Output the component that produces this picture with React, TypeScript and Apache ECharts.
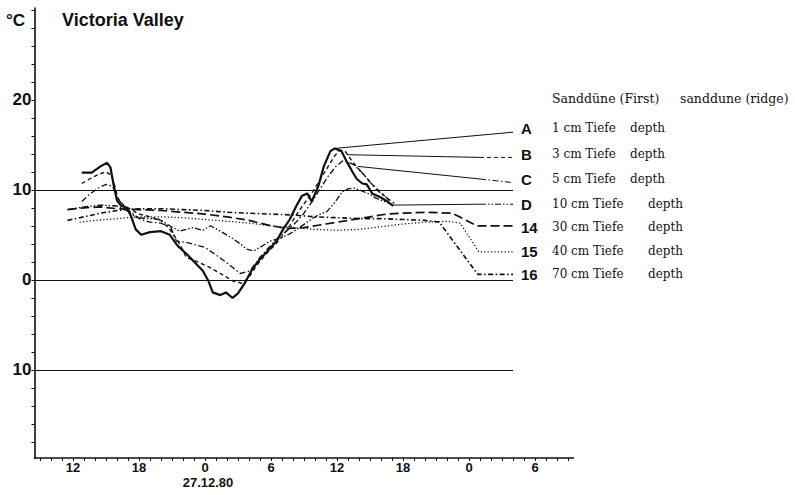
import React, { useEffect, useRef } from "react";
import * as echarts from "echarts";

// ---- texts ----
const title = "Victoria Valley";
const unitLabel = "°C";
const dateLabel = "27.12.80";
const legendHeaderLeft = "Sanddüne (First)";
const legendHeaderRight = "sanddune (ridge)";
const seriesCodes = ["A", "B", "C", "D", "14", "15", "16"];
const depthTexts = ["1 cm Tiefe", "3 cm Tiefe", "5 cm Tiefe", "10 cm Tiefe", "30 cm Tiefe", "40 cm Tiefe", "70 cm Tiefe"];
const depthWord = "depth";

// ---- axes (hours since 12:00 on 26.12.80, temperature °C) ----
const hourLabelValues = [0, 6, 12, 18, 24, 30, 36, 42];
const tempLabelValues = [20, 10, 0, -10];
const gridLineTemps = [10, 0, -10];

// ---- series [hour, °C] ----
const depth1cm = [
  [0.8, 11.9], [1.7, 11.9], [2.5, 12.6], [3.1, 13.0], [3.4, 12.5], [3.7, 10.5], [4.0, 8.8], [4.4, 8.2],
  [4.9, 8.0], [5.3, 7.0], [5.7, 5.6], [6.2, 5.0], [7.0, 5.3], [8.0, 5.4], [8.8, 5.0], [9.5, 3.8],
  [10.3, 2.9], [11.1, 1.9], [11.8, 1.0], [12.3, -0.1], [12.7, -1.4], [13.4, -1.7], [13.9, -1.4],
  [14.5, -2.0], [15.0, -1.5], [15.6, -0.4], [16.3, 1.2], [17.0, 2.3], [17.7, 3.2], [18.5, 4.3],
  [19.1, 5.6], [19.7, 6.7], [20.3, 8.2], [20.8, 9.3], [21.3, 9.6], [21.7, 8.7], [22.3, 10.4],
  [22.8, 12.6], [23.4, 14.3], [23.8, 14.6], [24.4, 14.3], [24.9, 13.1], [25.4, 12.0], [25.8, 11.2],
  [26.3, 10.7], [26.7, 10.6], [27.2, 9.6], [27.9, 9.2], [28.6, 8.7], [29.1, 8.2],
];
const depth3cm = [
  [0.8, 10.7], [1.5, 11.2], [2.3, 11.7], [3.0, 12.0], [3.5, 11.6], [3.8, 10.4], [4.1, 9.0], [4.6, 8.3],
  [5.3, 7.8], [6.0, 7.3], [7.0, 7.0], [8.0, 6.6], [8.8, 5.6], [9.7, 4.0], [10.3, 2.5], [11.5, 1.9],
  [12.4, 1.4], [13.4, 0.7], [14.5, -0.1], [15.4, -0.4], [16.0, 0.3], [16.7, 1.6], [17.5, 2.8],
  [18.3, 3.8], [19.0, 4.8], [19.7, 6.0], [20.4, 7.4], [21.1, 8.6], [21.8, 9.8], [22.5, 11.2],
  [23.2, 12.6], [23.8, 13.8], [24.3, 14.4], [24.8, 14.2], [25.3, 13.3], [25.9, 12.4], [26.5, 11.6],
  [27.2, 10.6], [27.9, 9.8], [28.6, 9.0], [29.2, 8.5],
];
const depth5cm = [
  [0.8, 8.7], [1.5, 9.5], [2.3, 10.2], [3.0, 10.6], [3.6, 10.4], [4.0, 9.2], [4.5, 8.3], [5.2, 7.6],
  [6.0, 6.8], [7.0, 6.4], [8.0, 6.3], [8.9, 5.8], [9.4, 4.3], [10.5, 4.1], [12.0, 3.6], [13.3, 2.5],
  [14.5, 1.4], [15.2, 0.7], [16.1, 1.0], [17.0, 2.5], [17.8, 3.6], [18.6, 4.6], [19.4, 5.4],
  [20.2, 6.3], [21.0, 7.4], [21.8, 8.8], [22.5, 10.2], [23.2, 11.5], [23.9, 12.6], [24.5, 13.2],
  [25.0, 13.1], [25.5, 12.8], [26.2, 12.0], [26.9, 11.0], [27.6, 10.0], [28.3, 9.3], [29.0, 8.7],
];
const depth10cm = [
  [-0.5, 7.8], [1.0, 8.1], [2.5, 8.3], [4.0, 8.2], [5.0, 7.6], [5.8, 6.9], [7.0, 6.8], [7.9, 6.7],
  [8.8, 6.0], [9.7, 5.4], [10.9, 5.8], [11.8, 5.5], [12.5, 6.0], [13.4, 5.4], [14.5, 4.6], [15.2, 4.0],
  [15.8, 3.4], [16.4, 3.2], [17.0, 3.6], [17.9, 4.3], [18.8, 4.6], [19.7, 5.1], [20.6, 5.8],
  [21.5, 6.6], [22.3, 7.2], [23.1, 7.6], [23.8, 8.6], [24.5, 9.8], [25.0, 10.1], [25.5, 10.2],
  [26.0, 10.0], [26.4, 9.8], [27.0, 9.5], [27.5, 9.1], [28.3, 8.7], [29.1, 8.3],
];
const depth30cm = [
  [-0.5, 7.8], [1.0, 8.0], [2.5, 8.1], [4.0, 7.9], [6.0, 7.8], [8.0, 7.7], [10.0, 7.5], [12.0, 7.3],
  [14.0, 7.0], [16.0, 6.6], [18.0, 6.0], [19.5, 5.7], [21.0, 5.8], [23.0, 6.2], [25.0, 6.6], [27.0, 7.0],
  [28.5, 7.3], [30.0, 7.4], [32.0, 7.5], [34.5, 7.4], [36.7, 6.0], [40.0, 6.0],
];
const depth40cm = [
  [0.6, 6.4], [2.0, 6.6], [4.0, 6.8], [6.0, 7.0], [8.0, 7.0], [10.0, 6.9], [12.0, 6.7], [14.0, 6.5],
  [16.0, 6.3], [18.0, 6.0], [20.0, 5.8], [22.0, 5.6], [24.0, 5.5], [26.0, 5.6], [28.0, 5.9], [30.0, 6.2],
  [32.0, 6.4], [34.0, 6.5], [35.2, 6.3], [36.9, 3.1], [40.0, 3.1],
];
const depth70cm = [
  [-0.5, 6.6], [1.0, 7.0], [2.5, 7.4], [4.0, 7.7], [6.0, 7.9], [8.0, 7.9], [10.0, 7.8], [12.0, 7.7],
  [14.0, 7.5], [16.0, 7.4], [18.0, 7.3], [20.0, 7.2], [22.0, 7.0], [24.0, 6.9], [26.0, 6.8], [28.0, 6.8],
  [30.0, 6.7], [32.0, 6.6], [33.3, 6.4], [36.8, 0.6], [40.0, 0.6],
];

// leader lines from curves to legend rows
const leaderA = [[23.8, 14.6], [40.0, 16.4]];
const leaderB = [[24.9, 13.9], [37.0, 13.6]];
const tailB = [[37.0, 13.6], [40.0, 13.6]];
const leaderC = [[25.9, 12.6], [37.0, 11.2]];
const tailC = [[37.0, 11.2], [40.0, 10.8]];
const leaderD = [[29.1, 8.3], [37.0, 8.4]];
const tailD = [[37.0, 8.4], [40.0, 8.4]];

const X_MIN = -3.5;
const X_MAX = 45.5;
const Y_MIN = -19.8;
const Y_MAX = 30.2;
const GRID_LINE_END = 40;

const INK = "#111";
const SANS = '"Liberation Sans", Arial, sans-serif';
const SERIF = '"DejaVu Serif", serif';

const dashB = [4, 3];
const dashC = [6, 2.5, 1.5, 2.5];
const dashD = [6, 2, 1.5, 2, 1.5, 2];
const dash14 = [9, 4];
const dash15 = [1.2, 2.2];
const dash16 = [5, 2.5, 1.5, 2.5];

function line(name: string, data: number[][], type: any, width: number) {
  return {
    name,
    type: "line",
    data,
    symbol: "none",
    silent: true,
    lineStyle: { color: INK, width, type, cap: "butt" },
  };
}

function txt(x: number, y: number, text: string, font: string, align = "left") {
  return {
    type: "text",
    x,
    y,
    silent: true,
    style: { text, font, fill: INK, textAlign: align, align, textVerticalAlign: "middle", verticalAlign: "middle" },
  };
}

export default function App() {
  const ref = useRef<HTMLDivElement>(null);
  useEffect(() => {
    if (!ref.current) return;
    const chart = echarts.init(ref.current, undefined, { renderer: "svg" });

    const hourTicks: number[] = [];
    for (let h = -3; h <= 45; h += 1) hourTicks.push(h);
    const tempTicks: number[] = [];
    for (let t = -18; t <= 30; t += 2) tempTicks.push(t);

    const rowY = [128, 154, 179, 204, 227, 251, 274];
    const depthX = [630, 630, 630, 648, 648, 648, 648];

    const graphic: any[] = [
      txt(6, 20, unitLabel, `bold 17px ${SANS}`),
      txt(62, 20, title, `bold 18px ${SANS}`),
      txt(208, 482, dateLabel, `bold 13px ${SANS}`, "center"),
      txt(552, 98, legendHeaderLeft, `12.5px ${SERIF}`),
      txt(680, 98, legendHeaderRight, `12.5px ${SERIF}`),
    ];
    seriesCodes.forEach((code, i) => {
      graphic.push(txt(521, rowY[i], code, `bold 15px ${SANS}`));
      graphic.push(txt(552, rowY[i], depthTexts[i], `12px ${SERIF}`));
      graphic.push(txt(depthX[i], rowY[i], depthWord, `12px ${SERIF}`));
    });

    const gridSeries = {
      type: "line",
      data: [],
      silent: true,
      markLine: {
        silent: true,
        symbol: "none",
        label: { show: false },
        lineStyle: { color: INK, width: 1.2, type: "solid" },
        data: gridLineTemps.map((t) => [{ coord: [X_MIN, t] }, { coord: [GRID_LINE_END, t] }]),
      },
    };

    chart.setOption({
      animation: false,
      backgroundColor: "#fff",
      grid: { left: 34.5, top: 8, width: 539, height: 450, containLabel: false },
      xAxis: {
        type: "value",
        min: X_MIN,
        max: X_MAX,
        axisLine: { show: true, onZero: false, lineStyle: { color: INK, width: 1.6 } },
        axisTick: { show: true, customValues: hourTicks, length: 3, lineStyle: { color: INK, width: 1 } },
        axisLabel: {
          customValues: hourLabelValues,
          formatter: (v: number) => String((12 + v) % 24),
          color: INK,
          fontWeight: "bold",
          fontSize: 13,
          fontFamily: SANS,
          margin: 3,
        },
        splitLine: { show: false },
      },
      yAxis: {
        type: "value",
        min: Y_MIN,
        max: Y_MAX,
        axisLine: { show: true, onZero: false, lineStyle: { color: INK, width: 1.6 } },
        axisTick: { show: true, customValues: tempTicks, length: 3, lineStyle: { color: INK, width: 1 } },
        axisLabel: {
          customValues: tempLabelValues,
          formatter: (v: number) => String(Math.abs(v)),
          color: INK,
          fontWeight: "bold",
          fontSize: 17,
          fontFamily: SANS,
          margin: 3,
        },
        splitLine: { show: false },
      },
      graphic,
      series: [
        gridSeries,
        line("leaderA", leaderA, "solid", 1),
        line("leaderB", leaderB, "solid", 1),
        line("tailB", tailB, dashB, 1),
        line("leaderC", leaderC, "solid", 1),
        line("tailC", tailC, dashC, 1),
        line("leaderD", leaderD, "solid", 1),
        line("tailD", tailD, dashD, 1),
        line("70 cm", depth70cm, dash16, 1.6),
        line("40 cm", depth40cm, dash15, 1.3),
        line("30 cm", depth30cm, dash14, 1.7),
        line("10 cm", depth10cm, dashD, 1.3),
        line("5 cm", depth5cm, dashC, 1.3),
        line("3 cm", depth3cm, dashB, 1.4),
        line("1 cm", depth1cm, "solid", 2.2),
      ],
    });
    return () => chart.dispose();
  }, []);
  return <div ref={ref} style={{ position: "fixed", left: 0, top: 0, width: 795, height: 495 }} />;
}
